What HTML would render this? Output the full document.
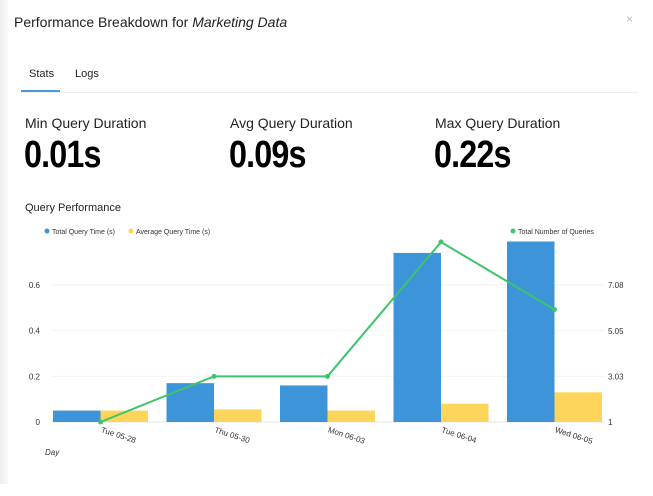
<!DOCTYPE html>
<html><head><meta charset="utf-8"><style>
body{margin:0;width:653px;height:496px;background:#fff;font-family:"Liberation Sans",sans-serif;overflow:hidden;position:relative;color:#222}
.abs{position:absolute}
.lbl{font-size:14px;color:#222}
.big{font-size:38px;font-weight:bold;letter-spacing:-1px;transform:scaleX(0.85);transform-origin:left;color:#000}
</style></head><body>
<div class="abs" style="left:0;top:0;width:8px;height:484px;background:linear-gradient(90deg,#eee,#fafafa)"></div>
<div class="abs" style="left:14px;top:14px;font-size:14px">Performance Breakdown for <i>Marketing Data</i></div>
<div class="abs" style="left:626px;top:12px;font-size:12px;color:#bbb">×</div>
<div class="abs" style="left:29px;top:68px;font-size:11px">Stats</div>
<div class="abs" style="left:75px;top:68px;font-size:11px">Logs</div>
<div class="abs" style="left:21px;top:90px;width:39px;height:2px;background:#4a9ad8"></div>
<div class="abs" style="left:21px;top:92px;width:617px;height:1px;background:#eee"></div>
<div class="abs lbl" style="left:25px;top:115px">Min Query Duration</div>
<div class="abs lbl" style="left:230px;top:115px">Avg Query Duration</div>
<div class="abs lbl" style="left:435px;top:115px">Max Query Duration</div>
<div class="abs big" style="left:24px;top:134px">0.01s</div>
<div class="abs big" style="left:229px;top:134px">0.09s</div>
<div class="abs big" style="left:434px;top:134px">0.22s</div>
<div class="abs" style="left:25px;top:202px;font-size:11px">Query Performance</div>
<svg class="abs" style="left:0;top:0" width="653" height="496" id="chart"></svg>
<script>
const categories=["Tue 05-28","Thu 05-30","Mon 06-03","Tue 06-04","Wed 06-05"];
const totalTime=[0.05,0.17,0.16,0.74,0.79];
const avgTime=[0.05,0.055,0.05,0.08,0.13];
const queryCount=[1,3.03,3.03,9,6];
const leftTicks=[0,0.2,0.4,0.6];
const rightTicks=[1,3.03,5.05,7.08];
const NS="http://www.w3.org/2000/svg";
const svg=document.getElementById('chart');
const x0=52,band=113.5,y0=422;
const yL=v=>y0-v*228.5;
const yR=v=>y0-(v-1)*45.6/2.027;
function mk(t,a){const e=document.createElementNS(NS,t);for(const k in a)e.setAttribute(k,a[k]);svg.appendChild(e);return e;}
leftTicks.forEach((t,i)=>{
 const g=mk('line',{x1:52,x2:605,y1:yL(t),y2:yL(t),stroke:i?'#f2f2f2':'#e6e6e6'});
 
 
 const l=mk('text',{x:40,y:yL(t)+3,'font-size':8,'text-anchor':'end',fill:'#333','font-family':'Liberation Sans'});l.textContent=t;
 
 
});
rightTicks.forEach(t=>{
 const l=mk('text',{x:608,y:yR(t)+3,'font-size':8,fill:'#333','font-family':'Liberation Sans'});l.textContent=t;
 
 
});
categories.forEach((c,i)=>{
 const bx=x0+band*i+1;
 const b=mk('rect',{x:bx,y:yL(totalTime[i]),width:47.5,height:y0-yL(totalTime[i]),fill:'#3d94d9'});
 
 
 const a=mk('rect',{x:bx+47.5,y:yL(avgTime[i]),width:47.5,height:y0-yL(avgTime[i]),fill:'#fdd55a'});
 
 
 const cx=bx+47.5;
 const t=mk('text',{x:cx,y:432,'font-size':8,fill:'#333','font-family':'Liberation Sans',transform:`rotate(18 ${cx} 432)`});t.textContent=c;
 
 
});
const pts=queryCount.map((v,i)=>[x0+band*i+48.5,yR(v)]);
const pl=mk('polyline',{points:pts.map(p=>p.join(',')).join(' '),fill:'none',stroke:'#3ec46d','stroke-width':2});


pts.forEach(p=>{const d=mk('circle',{cx:p[0],cy:p[1],r:2.5,fill:'#3ec46d'});
 
 });
function leg(x,col,txt,name){const d=mk('circle',{cx:x,cy:231,r:2.5,fill:col});
 
 
 const t=mk('text',{x:x+5,y:234,'font-size':7,fill:'#333','font-family':'Liberation Sans'});t.textContent=txt;
 
 }
leg(47,'#3d94d9','Total Query Time (s)','legend-total');
leg(131,'#fdd55a','Average Query Time (s)','legend-average');
leg(513,'#3ec46d','Total Number of Queries','legend-queries');
const dl=mk('text',{x:45,y:455,'font-size':8,'font-style':'italic',fill:'#333','font-family':'Liberation Sans'});dl.textContent='Day';


</script>
</body></html>
